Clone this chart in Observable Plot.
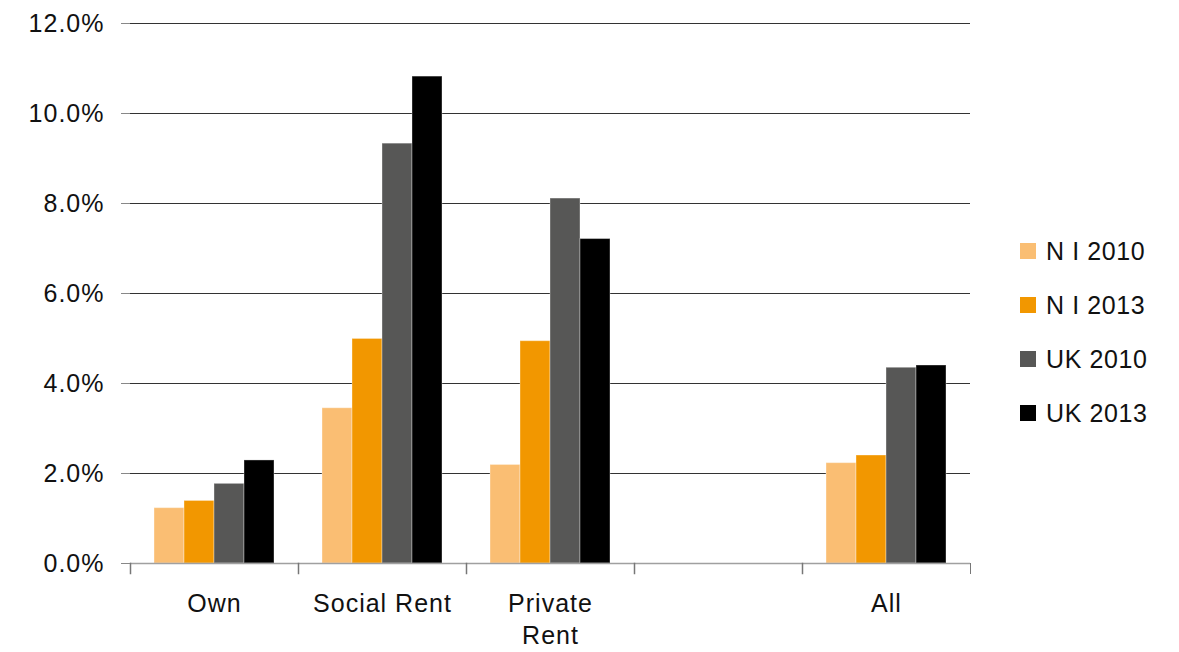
<!DOCTYPE html>
<html>
<head>
<meta charset="utf-8">
<script src="https://cdn.jsdelivr.net/npm/d3@7"></script>
<script src="https://cdn.jsdelivr.net/npm/@observablehq/plot@0.6"></script>
<style>
  html, body { margin: 0; padding: 0; background: #fff; }
  #wrap { position: relative; width: 1179px; height: 652px; font-family: "Liberation Sans", Arial, Helvetica, sans-serif; }
  #legend { position: absolute; left: 1020px; top: 238px; }
  .row { display: flex; align-items: center; height: 26px; margin-bottom: 28px; font-size: 25px; letter-spacing: 0.6px; color: #111; }
  .sw { width: 16px; height: 16px; margin-right: 10px; }
</style>
</head>
<body>
<div id="wrap"><div id="chart"></div><div id="legend"></div></div>
<script>
// ---- data ----
const categories = ["Own", "Social Rent", "Private Rent", "", "All"];
const categoryLabels = ["Own", "Social Rent", "Private\nRent", "", "All"];
const seriesNames = ["N I 2010", "N I 2013", "UK 2010", "UK 2013"];
const seriesColors = ["#FABE73", "#F29700", "#575756", "#000000"];
const ni2010 = [1.23, 3.45, 2.19, null, 2.23];
const ni2013 = [1.39, 4.99, 4.94, null, 2.40];
const uk2010 = [1.77, 9.33, 8.11, null, 4.35];
const uk2013 = [2.29, 10.82, 7.21, null, 4.40];
const yTicks = [0, 2, 4, 6, 8, 10, 12];

const seriesValues = [ni2010, ni2013, uk2010, uk2013];
const rows = [];
categories.forEach((c, i) => {
  seriesValues.forEach((vals, s) => {
    if (vals[i] != null) rows.push({category: c, series: seriesNames[s], value: vals[i]});
  });
});
// gridlines per category so every facet (including the blank one) is drawn
const gridRows = categories.flatMap(c => yTicks.filter(t => t > 0).map(t => ({category: c, tick: t})));
const baseRows = categories.map(c => ({category: c, tick: 0}));

const W = 1179, H = 652, mT = 23, mB = 89, mL = 129, mR = 208;
const plotH = H - mT - mB;
const labelOf = new Map(categories.map((c, i) => [c, categoryLabels[i]]));

const chart = Plot.plot({
  width: W,
  height: H,
  marginTop: mT,
  marginBottom: mB,
  marginLeft: mL,
  marginRight: mR,
  style: {fontFamily: "'Liberation Sans', Arial, Helvetica, sans-serif", fontSize: "25px", letterSpacing: "1px", color: "#111", background: "#fff"},
  fx: {domain: categories, padding: 0},
  x: {domain: seriesNames, paddingInner: 0, paddingOuter: 0.77, axis: null},
  y: {domain: [0, 12]},
  color: {domain: seriesNames, range: seriesColors},
  marks: [
    Plot.ruleY(gridRows, {fx: "category", y: "tick", stroke: "#333", strokeWidth: 1}),
    Plot.barY(rows, {fx: "category", x: "series", y: "value", fill: "series", stroke: "#fff", strokeOpacity: 0.35, strokeWidth: 1}),
    Plot.ruleY(baseRows, {fx: "category", y: "tick", stroke: "#a0a0a0", strokeWidth: 1.5}),
    Plot.frame({anchor: "left", stroke: "#777", strokeWidth: 1.5, insetTop: plotH, insetBottom: -10}),
    Plot.frame({anchor: "right", stroke: "#777", strokeWidth: 1, insetTop: plotH, insetBottom: -10}),
    Plot.axisY({ticks: yTicks, tickFormat: d => d.toFixed(1) + "%", tickSize: 9, tickPadding: 17, line: true, stroke: "#888", label: null, fontSize: 25, color: "#111"}),
    Plot.axisFx({anchor: "bottom", tickSize: 0, tickPadding: 25, tickFormat: d => labelOf.get(d), label: null, fontSize: 25, lineHeight: 1.3})
  ]
});
document.getElementById("chart").appendChild(chart);

const legend = document.getElementById("legend");
seriesNames.forEach((n, i) => {
  const r = document.createElement("div");
  r.className = "row";
  r.innerHTML = `<div class="sw" style="background:${seriesColors[i]}"></div><span>${n}</span>`;
  legend.appendChild(r);
});
</script>
</body>
</html>
